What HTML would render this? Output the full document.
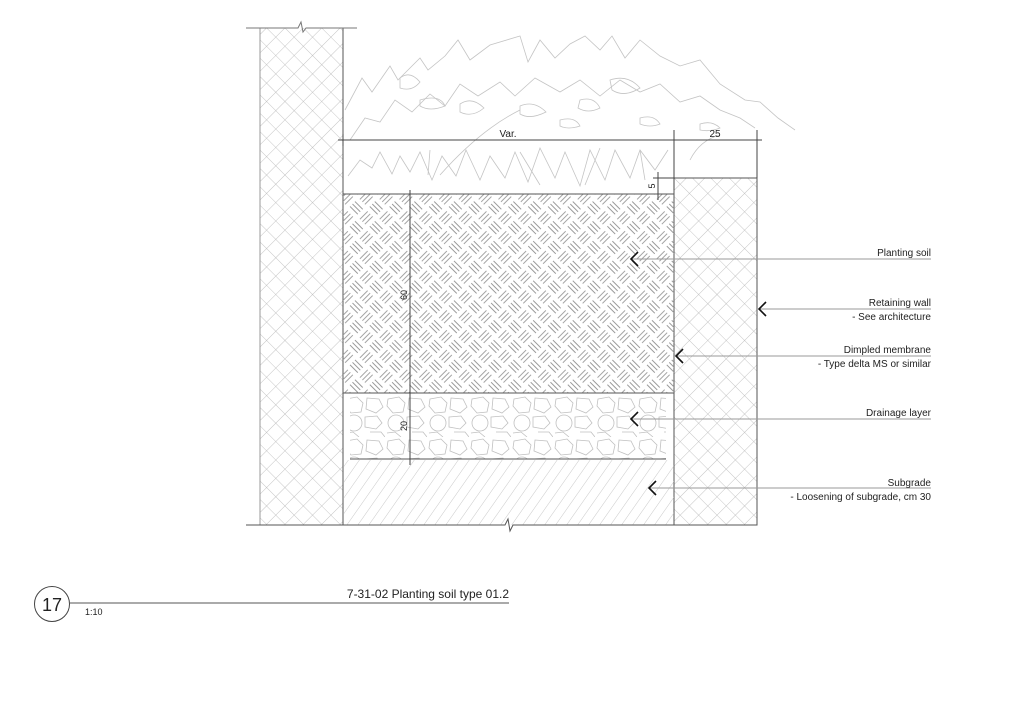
<!DOCTYPE html>
<html><head><meta charset="utf-8"><style>
html,body{margin:0;padding:0;background:#fff;}
svg{display:block;}
text{font-family:"Liberation Sans",sans-serif;fill:#222;}
</style></head><body>
<svg width="1024" height="704" viewBox="0 0 1024 704" xmlns="http://www.w3.org/2000/svg">
<defs>
<pattern id="cross" width="13" height="13" patternUnits="userSpaceOnUse" patternTransform="rotate(45)">
<path d="M0 0H13M0 0V13" stroke="#b5b5b5" stroke-width="0.8" fill="none"/>
</pattern>
<pattern id="weave" width="28" height="28" patternUnits="userSpaceOnUse" patternTransform="rotate(45)">
<g stroke="#9a9a9a" stroke-width="0.9" fill="none">
<path d="M1.5 3.5H12.5M1.5 7H12.5M1.5 10.5H12.5"/>
<path d="M15.5 17.5H26.5M15.5 21H26.5M15.5 24.5H26.5"/>
<path d="M17.5 1.5V12.5M21 1.5V12.5M24.5 1.5V12.5"/>
<path d="M3.5 15.5V26.5M7 15.5V26.5M10.5 15.5V26.5"/>
</g>
</pattern>
<pattern id="sub" width="9" height="10" patternUnits="userSpaceOnUse" patternTransform="rotate(35)">
<path d="M0 0V10" stroke="#bbb" stroke-width="0.8" stroke-dasharray="14 2 1 2"/>
</pattern>
<pattern id="stones" width="42" height="42" patternUnits="userSpaceOnUse" x="343" y="395">
<g stroke="#c0c0c0" stroke-width="0.8" fill="none">
<path d="M3 4 L14 2 L20 8 L18 17 L8 18 L2 11Z"/>
<path d="M24 3 L36 4 L40 12 L33 18 L23 14Z"/>
<circle cx="11" cy="28" r="8"/>
<path d="M22 22 L34 21 L39 28 L33 34 L22 32Z"/>
<path d="M2 38 L10 37 L16 42 M27 37 L38 37 L42 42"/>
</g>
</pattern>
</defs>

<rect x="260" y="28" width="83" height="497" fill="url(#cross)"/>
<line x1="260" y1="28" x2="260" y2="525" stroke="#999"/>
<line x1="343" y1="28" x2="343" y2="525" stroke="#555"/>
<rect x="674" y="178" width="83" height="347" fill="url(#cross)"/>
<rect x="674" y="178" width="83" height="347" fill="none" stroke="#555"/>
<rect x="343" y="194" width="331" height="199" fill="url(#weave)"/>
<line x1="343" y1="194" x2="674" y2="194" stroke="#555"/>
<line x1="343" y1="393" x2="674" y2="393" stroke="#555"/>
<rect x="350" y="395" width="316" height="64" fill="url(#stones)"/>
<line x1="350" y1="459" x2="666" y2="459" stroke="#555"/>
<rect x="344" y="460" width="330" height="65" fill="url(#sub)"/>

<path d="M246 28 H298 L301 22 L303 32 L306 28 H357" stroke="#777" fill="none"/>
<path d="M246 525 H505 L508 519 L510 531 L513 525 H755" stroke="#555" fill="none"/>

<g stroke="#c4c4c4" stroke-width="0.8" fill="none">
<path d="M345 110 L362 78 L372 92 L390 66 L398 80 L420 58 L428 70 L445 56 L458 40 L470 60 L490 45 L520 36 L528 62 L540 40 L555 58 L570 44 L585 36 L600 50 L612 36 L625 58 L640 40 L660 56 L680 66 L700 60 L720 84 L745 100 L760 102 L778 118 L795 130"/>
<path d="M350 140 L365 118 L380 122 L395 100 L412 112 L430 94 L445 106 L460 84 L478 96 L500 82 L515 96 L535 78 L560 92 L580 80 L600 96 L620 80 L640 92 L660 84 L680 102 L700 96 L720 110 L740 118 L755 128"/>
<path d="M400 78 Q410 70 420 82 Q412 92 400 88Z M460 104 Q472 96 484 108 Q472 118 460 112Z M520 106 Q534 100 546 112 Q530 120 520 114Z M580 100 Q594 96 600 108 Q588 114 578 108Z M610 80 Q628 74 640 88 Q624 98 612 90Z M640 118 Q654 114 660 124 Q650 128 640 124Z M700 124 Q712 120 720 128 Q710 132 700 130Z M420 100 Q440 94 445 106 Q430 112 420 106Z M560 120 Q575 116 580 126 Q568 130 560 126Z"/>
<path d="M348 176 L360 160 L372 168 L380 152 L392 174 L400 156 L410 172 L420 152 L432 180 L442 156 L456 176 L466 150 L480 180 L490 156 L505 178 L515 152 L528 182 L540 148 L555 178 L565 152 L580 186 L590 150 L605 180 L615 150 L630 178 L640 150 L655 170 L668 150"/>
<path d="M430 150 L428 175 M520 152 L540 185 M600 148 L585 185 M640 150 L645 180"/>
<path d="M690 160 Q700 140 720 135 M520 110 Q480 130 440 175"/>
</g>

<g stroke="#444" stroke-width="1" fill="none">
<line x1="338" y1="140" x2="762" y2="140"/>
<line x1="674" y1="130" x2="674" y2="190"/>
<line x1="757" y1="130" x2="757" y2="178"/>
<line x1="343" y1="134" x2="343" y2="146"/>
<line x1="658" y1="172" x2="658" y2="200"/>
<line x1="653" y1="178" x2="674" y2="178"/>
<line x1="410" y1="190" x2="410" y2="465"/>
<line x1="405" y1="393" x2="415" y2="393"/>
</g>
<text x="508" y="137" font-size="10" text-anchor="middle">Var.</text>
<text x="715" y="137" font-size="10" text-anchor="middle">25</text>
<text transform="translate(655,186) rotate(-90)" font-size="9" text-anchor="middle">5</text>
<text transform="translate(407,295) rotate(-90)" font-size="9" text-anchor="middle">60</text>
<text transform="translate(407,426) rotate(-90)" font-size="9" text-anchor="middle">20</text>

<g stroke="#999" stroke-width="1" fill="none">
<line x1="632" y1="259" x2="931" y2="259"/>
<line x1="760" y1="309" x2="931" y2="309"/>
<line x1="677" y1="356" x2="931" y2="356"/>
<line x1="632" y1="419" x2="931" y2="419"/>
<line x1="650" y1="488" x2="931" y2="488"/>
</g>
<g stroke="#111" stroke-width="1.6" fill="none">
<path d="M638 252 L631 259 L638 266"/>
<path d="M766 302 L759 309 L766 316"/>
<path d="M683 349 L676 356 L683 363"/>
<path d="M638 412 L631 419 L638 426"/>
<path d="M656 481 L649 488 L656 495"/>
</g>
<g font-size="10" text-anchor="end">
<text x="931" y="256">Planting soil</text>
<text x="931" y="306">Retaining wall</text>
<text x="931" y="320">- See architecture</text>
<text x="931" y="353">Dimpled membrane</text>
<text x="931" y="367">- Type delta MS or similar</text>
<text x="931" y="416">Drainage layer</text>
<text x="931" y="486">Subgrade</text>
<text x="931" y="500">- Loosening of subgrade, cm 30</text>
</g>

<circle cx="52" cy="604" r="17.5" stroke="#444" fill="none"/>
<text x="52" y="611" font-size="18" text-anchor="middle">17</text>
<line x1="70" y1="603" x2="509" y2="603" stroke="#555"/>
<text x="509" y="598" font-size="12" text-anchor="end">7-31-02 Planting soil type 01.2</text>
<text x="85" y="615" font-size="9">1:10</text>
</svg>
</body></html>
